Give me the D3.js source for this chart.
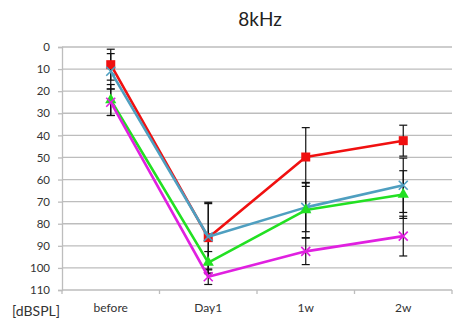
<!DOCTYPE html>
<html>
<head>
<meta charset="utf-8">
<script src="https://cdn.jsdelivr.net/npm/d3@7"></script>
<style>
  html, body { margin: 0; padding: 0; background: #fff; }
  svg { display: block; font-family: Lato, "Open Sans", sans-serif; }
</style>
</head>
<body>
<div id="chart"></div>
<script>
// categories and series values (dB SPL threshold)
const categories = ['before', 'Day1', '1w', '2w'];
const yTicks = [0, 10, 20, 30, 40, 50, 60, 70, 80, 90, 100, 110];

const redValues = [8, 86.3, 49.8, 42.4];
const redErrors = [7, 16, 13.3, 7];
const blueValues = [11, 85.9, 72.6, 62.6];
const blueErrors = [8, 15, 11, 12.3];
const greenValues = [24, 97.6, 73.8, 66.8];
const greenErrors = [7, 5, 12.5, 10.8];
const magentaValues = [25, 104, 92.5, 85.6];
const magentaErrors = [6, 3.5, 6, 9];

const series = [
	{ name: 'red', color: '#f01010', marker: 'square', values: redValues, errors: redErrors },
	{ name: 'blue', color: '#4f9fc0', marker: 'cross', values: blueValues, errors: blueErrors },
	{ name: 'green', color: '#22e022', marker: 'triangle', values: greenValues, errors: greenErrors },
	{ name: 'magenta', color: '#e020e0', marker: 'cross', values: magentaValues, errors: magentaErrors }
];

const width = 456;
const height = 323;
const plot = { left: 62, right: 452, top: 47, bottom: 290 };

const svg = d3.select('#chart')
	.append('svg')
	.attr('width', width)
	.attr('height', height);

const xScale = d3.scaleBand()
	.domain(categories)
	.range([plot.left, plot.right]);
const xPos = (c) => xScale(c) + xScale.bandwidth() / 2;

const yScale = d3.scaleLinear()
	.domain([0, 110])
	.range([plot.top, plot.bottom]);

// Title
svg.append('text')
	.attr('x', 260)
	.attr('y', 26)
	.attr('text-anchor', 'middle')
	.attr('font-size', 19)
	.attr('fill', '#222')
	.text('8kHz');

// Horizontal gridlines
svg.append('g')
	.selectAll('line')
	.data(yTicks.slice(0, -1))
	.enter()
	.append('line')
	.attr('x1', plot.left)
	.attr('x2', plot.right)
	.attr('y1', (d) => yScale(d))
	.attr('y2', (d) => yScale(d))
	.attr('stroke', '#bdbdbd')
	.attr('stroke-width', 1.3);

// Y axis
const yAxis = svg.append('g')
	.attr('transform', `translate(${plot.left},0)`)
	.call(d3.axisLeft(yScale).tickValues(yTicks).tickSize(4).tickPadding(8));
yAxis.select('.domain').attr('stroke', '#bdbdbd').attr('stroke-width', 1.3);
yAxis.selectAll('.tick line').attr('stroke', '#bdbdbd').attr('stroke-width', 1.3);
yAxis.selectAll('.tick text')
	.attr('font-size', 11.5)
	.attr('fill', '#333')
	.attr('font-family', 'Lato, sans-serif');

// X axis at the bottom, ticks between categories
const xAxis = svg.append('g')
	.attr('transform', `translate(0,${plot.bottom})`);
xAxis.append('line')
	.attr('x1', plot.left)
	.attr('x2', plot.right)
	.attr('stroke', '#bdbdbd')
	.attr('stroke-width', 1.3);
const boundaries = categories.map((c) => xScale(c)).concat([plot.right]);
xAxis.selectAll('.xtick')
	.data(boundaries)
	.enter()
	.append('line')
	.attr('class', 'xtick')
	.attr('x1', (d) => d)
	.attr('x2', (d) => d)
	.attr('y1', 0)
	.attr('y2', 4)
	.attr('stroke', '#bdbdbd')
	.attr('stroke-width', 1.3);
xAxis.selectAll('.xlabel')
	.data(categories)
	.enter()
	.append('text')
	.attr('class', 'xlabel')
	.attr('x', (d) => xPos(d))
	.attr('y', 22)
	.attr('text-anchor', 'middle')
	.attr('font-size', 12)
	.attr('fill', '#333')
	.text((d) => d);

// Unit label
svg.append('text')
	.attr('x', 12)
	.attr('y', 316)
	.attr('font-size', 14)
	.attr('fill', '#333')
	.text('[dBSPL]');

// Error bars (drawn first, under the lines)
const errGroup = svg.append('g');
series.forEach((s) => {
	categories.forEach((c, i) => {
		const x = xPos(c);
		const y0 = yScale(Math.max(0, s.values[i] - s.errors[i]));
		const y1 = yScale(s.values[i] + s.errors[i]);
		errGroup.append('line')
			.attr('x1', x).attr('x2', x)
			.attr('y1', y0).attr('y2', y1)
			.attr('stroke', '#111').attr('stroke-width', 1.2);
		[y0, y1].forEach((y) => {
			errGroup.append('line')
				.attr('x1', x - 4).attr('x2', x + 4)
				.attr('y1', y).attr('y2', y)
				.attr('stroke', '#111').attr('stroke-width', 1.2);
		});
	});
});

// Lines and markers
const line = d3.line()
	.x((d) => xPos(d.cat))
	.y((d) => yScale(d.value));

series.forEach((s) => {
	const pts = categories.map((c, i) => ({ cat: c, value: s.values[i] }));
	const g = svg.append('g');
	g.append('path')
		.datum(pts)
		.attr('d', line)
		.attr('fill', 'none')
		.attr('stroke', s.color)
		.attr('stroke-width', 2.6)
		.attr('stroke-linejoin', 'round');

	pts.forEach((p) => {
		const cx = xPos(p.cat);
		const cy = yScale(p.value);
		if (s.marker === 'square') {
			g.append('rect')
				.attr('x', cx - 4.5).attr('y', cy - 4.5)
				.attr('width', 9).attr('height', 9)
				.attr('fill', s.color);
		} else if (s.marker === 'triangle') {
			g.append('path')
				.attr('transform', `translate(${cx},${cy})`)
				.attr('d', d3.symbol(d3.symbolTriangle, 55)())
				.attr('fill', s.color);
		} else {
			g.append('path')
				.attr('transform', `translate(${cx},${cy})`)
				.attr('d', 'M-4.5,-4.5L4.5,4.5M-4.5,4.5L4.5,-4.5')
				.attr('stroke', s.color)
				.attr('stroke-width', 1.6)
				.attr('fill', 'none');
		}
	});
});
</script>
</body>
</html>
